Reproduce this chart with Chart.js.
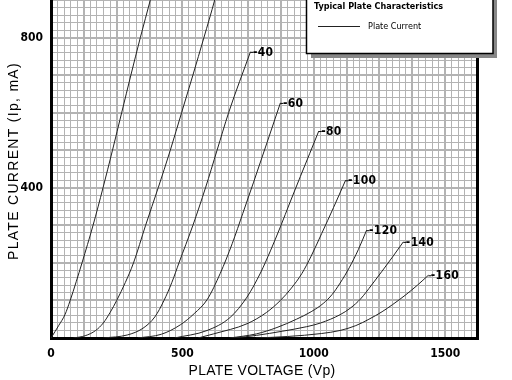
<!DOCTYPE html>
<html><head><meta charset="utf-8">
<script src="https://cdn.jsdelivr.net/npm/chart.js@4/dist/chart.umd.min.js"></script>
<style>html,body{margin:0;padding:0;background:#fff;overflow:hidden}#wrap{width:512px;height:380px;position:relative}</style>
</head><body><div id="wrap"><canvas id="c" width="512" height="380"></canvas></div>
<script>
// Grid voltages (curve labels)
const gridVoltages = ['0', '-20', '-40', '-60', '-80', '-100', '-120', '-140', '-160'];
// Plate characteristic curves: [plate voltage (V), plate current (mA)]
const curve0   = [[0,0],[30,34],[53,62],[73,100],[96,150],[118,200],[160,300],[198,400],[234,500],[269,600],[304,700],[340,800],[378,900],[400,960]];
const curve20  = [[85,0],[130,6],[170,20],[199,40],[225,68],[250,100],[283,148],[314,200],[360,300],[408,400],[454,500],[497,600],[540,700],[582,800],[623,900],[645,960]];
const curve40  = [[200,0],[290,8],[350,26],[395,56],[430,100],[460,148],[487,200],[540,300],[588,400],[632,500],[676,600],[759,762]];
const curve60  = [[330,0],[420,10],[492,35],[545,65],[594,102],[644,172],[690,252],[730,332],[771,415],[822,520],[873,626]];
const curve80  = [[470,0],[594,20],[682,55],[746,109],[797,173],[835,232],[873,296],[910,362],[949,430],[985,492],[1019,551]];
const curve100 = [[560,0],[619,11],[746,38],[820,68],[873,100],[915,133],[955,172],[990,218],[1030,278],[1075,347],[1121,420]];
const curve120 = [[680,0],[782,11],[860,28],[934,50],[990,70],[1036,92],[1070,116],[1100,146],[1135,187],[1170,236],[1201,287]];
const curve140 = [[700,0],[782,7],[880,18],[972,30],[1026,40],[1100,62],[1140,80],[1178,104],[1220,141],[1260,178],[1300,216],[1341,256]];
const curve160 = [[780,0],[900,4],[1030,12],[1100,20],[1160,33],[1210,50],[1260,70],[1300,89],[1350,115],[1395,141],[1436,167]];
const curves = [curve0, curve20, curve40, curve60, curve80, curve100, curve120, curve140, curve160];
// Axis ticks
const xTickLabels = [0, 500, 1000, 1500];
const yTickLabels = [400, 800];
const xMax = 1625, yMax = 900;

const NARROW = "'Liberation Sans Narrow','DejaVu Sans Condensed','Arial Narrow',sans-serif";
const SANS = "'Liberation Sans',Arial,sans-serif";
Chart.defaults.font.family = NARROW;
Chart.defaults.color = '#000';

const GRID = '#b3b3b3';

const decor = {
  id: 'decor',
  afterDatasetsDraw(chart) {
    const ctx = chart.ctx, xs = chart.scales.x, ys = chart.scales.y;
    ctx.save();
    chart.data.datasets.forEach((ds) => {
      const last = ds.data[ds.data.length - 1];
      if (last.y > yMax) return;
      const px = xs.getPixelForValue(last.x), py = ys.getPixelForValue(last.y);
      ctx.strokeStyle = '#000'; ctx.lineWidth = 1;
      ctx.beginPath(); ctx.moveTo(px, py + 0.5); ctx.lineTo(px + 3, py + 0.5); ctx.stroke();
      ctx.fillStyle = '#000';
      ctx.font = "bold 12px " + NARROW;
      ctx.letterSpacing = '0.3px';
      ctx.textAlign = 'left'; ctx.textBaseline = 'middle';
      ctx.fillText(ds.label, px + 2.5, py + 1);
    });
    ctx.restore();
  },
  afterDraw(chart) {
    const ctx = chart.ctx, a = chart.chartArea;
    ctx.save();
    // right border
    ctx.strokeStyle = '#000'; ctx.lineWidth = 3;
    ctx.beginPath(); ctx.moveTo(a.right - 0.5, a.top); ctx.lineTo(a.right - 0.5, a.bottom + 1); ctx.stroke();
    // legend box with shadow
    ctx.fillStyle = '#888';
    ctx.fillRect(311, 0, 186, 58);
    ctx.fillStyle = '#fff';
    ctx.fillRect(306, -5, 187, 59);
    ctx.strokeStyle = '#000'; ctx.lineWidth = 1.5;
    ctx.strokeRect(306.5, -5, 186.5, 58.5);
    ctx.fillStyle = '#000';
    ctx.font = "bold 9px " + NARROW;
    ctx.letterSpacing = '0px';
    ctx.textAlign = 'left'; ctx.textBaseline = 'middle';
    ctx.fillText('Typical Plate Characteristics', 314, 7);
    ctx.strokeStyle = '#222'; ctx.lineWidth = 1;
    ctx.beginPath(); ctx.moveTo(318, 26.5); ctx.lineTo(360, 26.5); ctx.stroke();
    ctx.font = "9px " + NARROW;
    ctx.fillText('Plate Current', 368, 26.5);
    // axis titles
    ctx.font = "14px " + SANS;
    ctx.letterSpacing = '0.3px';
    ctx.textAlign = 'center'; ctx.textBaseline = 'middle';
    ctx.fillText('PLATE VOLTAGE (Vp)', 262, 371);
    ctx.translate(14, 161);
    ctx.rotate(-Math.PI / 2);
    ctx.letterSpacing = '1.3px';
    ctx.fillText('PLATE CURRENT (Ip, mA)', 0, 0);
    ctx.restore();
  }
};

const datasets = curves.map((c, i) => ({
  label: gridVoltages[i],
  data: c.map(p => ({x: p[0], y: p[1]})),
  borderColor: '#222',
  borderWidth: 1,
  pointRadius: 0,
  fill: false,
  cubicInterpolationMode: 'monotone'
}));

new Chart(document.getElementById('c'), {
  type: 'line',
  data: { datasets },
  options: {
    responsive: false,
    animation: false,
    devicePixelRatio: 1,
    layout: { padding: { top: 0, right: 34, bottom: 0, left: 0 } },
    plugins: { legend: { display: false }, tooltip: { enabled: false } },
    scales: {
      x: {
        type: 'linear', min: 0, max: xMax,
        afterFit(s) { s.height = 42; s.paddingLeft = 0; s.paddingRight = 0; },
        ticks: {
          stepSize: 25, autoSkip: false, maxRotation: 0, padding: 9,
          font: { size: 12, weight: 'bold' },
          callback: (v) => xTickLabels.includes(v) ? String(v) : ''
        },
        grid: {
          drawTicks: false, color: GRID,
          lineWidth: (c) => (c.tick && c.tick.value % 125 === 0) ? 2 : 1
        },
        border: { display: true, color: '#000', width: 3 }
      },
      y: {
        type: 'linear', min: 0, max: yMax,
        afterFit(s) { s.width = 51; s.paddingTop = 0; s.paddingBottom = 0; },
        ticks: {
          stepSize: 20, autoSkip: false, padding: 8,
          font: { size: 12, weight: 'bold' },
          callback: (v) => yTickLabels.includes(v) ? String(v) : ''
        },
        grid: {
          drawTicks: false, color: GRID,
          lineWidth: (c) => (c.tick && c.tick.value % 100 === 0) ? 2 : 1
        },
        border: { display: true, color: '#000', width: 3 }
      }
    }
  },
  plugins: [decor]
});
</script>
</body></html>
